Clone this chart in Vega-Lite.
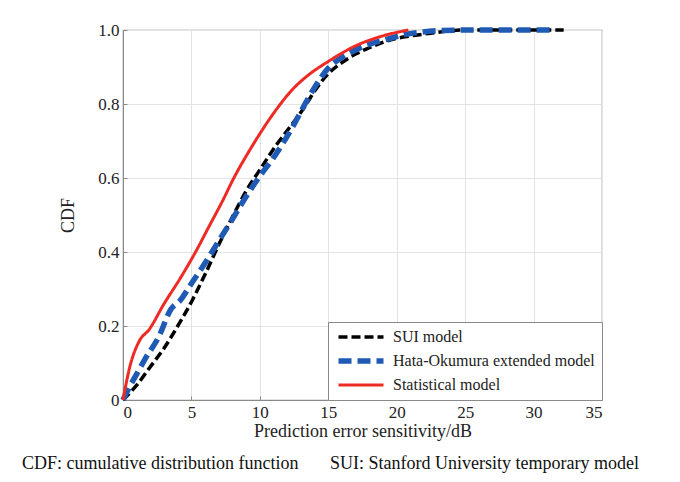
{
  "$schema": "https://vega.github.io/schema/vega-lite/v6.json",
  "width": 479,
  "height": 370,
  "autosize": {"type": "none"},
  "padding": {"left": 123, "top": 30, "right": 78, "bottom": 82},
  "background": "white",
  "config": {
    "font": "Liberation Serif",
    "view": {"stroke": "#8a8a8a", "strokeWidth": 1.2},
    "axis": {
      "labelFont": "Liberation Serif",
      "titleFont": "Liberation Serif",
      "labelFontSize": 17,
      "titleFontSize": 18,
      "labelColor": "#222",
      "titleColor": "#222",
      "titleFontWeight": "normal",
      "gridColor": "#e3e3e3",
      "domainColor": "#8a8a8a",
      "tickColor": "#8a8a8a",
      "tickSize": -4
    }
  },
  "title": {
    "text": "CDF: cumulative distribution function\u00a0\u00a0\u00a0\u00a0\u00a0\u00a0\u00a0SUI: Stanford University temporary model",
    "orient": "bottom",
    "anchor": "start",
    "frame": "group",
    "dx": -101,
    "offset": 15,
    "font": "Liberation Serif",
    "fontSize": 18,
    "fontWeight": "normal",
    "color": "#111"
  },
  "data": {
    "values": [
      {"model": "SUI model", "x": 0, "cdf": 0},
      {"model": "SUI model", "x": 1, "cdf": 0.04},
      {"model": "SUI model", "x": 2, "cdf": 0.09},
      {"model": "SUI model", "x": 3, "cdf": 0.14},
      {"model": "SUI model", "x": 4, "cdf": 0.2},
      {"model": "SUI model", "x": 5, "cdf": 0.265},
      {"model": "SUI model", "x": 6, "cdf": 0.34},
      {"model": "SUI model", "x": 7, "cdf": 0.42},
      {"model": "SUI model", "x": 8, "cdf": 0.495},
      {"model": "SUI model", "x": 9, "cdf": 0.565},
      {"model": "SUI model", "x": 10, "cdf": 0.622},
      {"model": "SUI model", "x": 11.2, "cdf": 0.689},
      {"model": "SUI model", "x": 12, "cdf": 0.728},
      {"model": "SUI model", "x": 13, "cdf": 0.778},
      {"model": "SUI model", "x": 13.4, "cdf": 0.8},
      {"model": "SUI model", "x": 14, "cdf": 0.835},
      {"model": "SUI model", "x": 15, "cdf": 0.882},
      {"model": "SUI model", "x": 16, "cdf": 0.912},
      {"model": "SUI model", "x": 17, "cdf": 0.935},
      {"model": "SUI model", "x": 18, "cdf": 0.952},
      {"model": "SUI model", "x": 19.5, "cdf": 0.973},
      {"model": "SUI model", "x": 21, "cdf": 0.984},
      {"model": "SUI model", "x": 22, "cdf": 0.989},
      {"model": "SUI model", "x": 23, "cdf": 0.994},
      {"model": "SUI model", "x": 24, "cdf": 0.998},
      {"model": "SUI model", "x": 25, "cdf": 1.0},
      {"model": "SUI model", "x": 32.2, "cdf": 1.0},
      {"model": "Hata-Okumura extended model", "x": 0, "cdf": 0},
      {"model": "Hata-Okumura extended model", "x": 0.4, "cdf": 0.03},
      {"model": "Hata-Okumura extended model", "x": 1, "cdf": 0.07},
      {"model": "Hata-Okumura extended model", "x": 1.6, "cdf": 0.11},
      {"model": "Hata-Okumura extended model", "x": 2.6, "cdf": 0.17},
      {"model": "Hata-Okumura extended model", "x": 3.5, "cdf": 0.245},
      {"model": "Hata-Okumura extended model", "x": 4.2, "cdf": 0.27},
      {"model": "Hata-Okumura extended model", "x": 5, "cdf": 0.315},
      {"model": "Hata-Okumura extended model", "x": 6, "cdf": 0.37},
      {"model": "Hata-Okumura extended model", "x": 7, "cdf": 0.43},
      {"model": "Hata-Okumura extended model", "x": 7.8, "cdf": 0.477},
      {"model": "Hata-Okumura extended model", "x": 9, "cdf": 0.55},
      {"model": "Hata-Okumura extended model", "x": 9.9, "cdf": 0.6},
      {"model": "Hata-Okumura extended model", "x": 11, "cdf": 0.655},
      {"model": "Hata-Okumura extended model", "x": 11.6, "cdf": 0.689},
      {"model": "Hata-Okumura extended model", "x": 12.5, "cdf": 0.745},
      {"model": "Hata-Okumura extended model", "x": 13.3, "cdf": 0.8},
      {"model": "Hata-Okumura extended model", "x": 14, "cdf": 0.845},
      {"model": "Hata-Okumura extended model", "x": 15, "cdf": 0.897},
      {"model": "Hata-Okumura extended model", "x": 16, "cdf": 0.926},
      {"model": "Hata-Okumura extended model", "x": 17, "cdf": 0.946},
      {"model": "Hata-Okumura extended model", "x": 18, "cdf": 0.961},
      {"model": "Hata-Okumura extended model", "x": 19.5, "cdf": 0.977},
      {"model": "Hata-Okumura extended model", "x": 20.5, "cdf": 0.987},
      {"model": "Hata-Okumura extended model", "x": 21.7, "cdf": 0.994},
      {"model": "Hata-Okumura extended model", "x": 23, "cdf": 0.998},
      {"model": "Hata-Okumura extended model", "x": 25.4, "cdf": 1.0},
      {"model": "Hata-Okumura extended model", "x": 31.3, "cdf": 1.0},
      {"model": "Statistical model", "x": 0, "cdf": 0},
      {"model": "Statistical model", "x": 0.5, "cdf": 0.09},
      {"model": "Statistical model", "x": 1.2, "cdf": 0.16},
      {"model": "Statistical model", "x": 1.9, "cdf": 0.19},
      {"model": "Statistical model", "x": 3, "cdf": 0.26},
      {"model": "Statistical model", "x": 4.2, "cdf": 0.33},
      {"model": "Statistical model", "x": 5.3, "cdf": 0.4},
      {"model": "Statistical model", "x": 6.3, "cdf": 0.47},
      {"model": "Statistical model", "x": 7.3, "cdf": 0.54},
      {"model": "Statistical model", "x": 8.1, "cdf": 0.6},
      {"model": "Statistical model", "x": 9.5, "cdf": 0.69},
      {"model": "Statistical model", "x": 10.5, "cdf": 0.748},
      {"model": "Statistical model", "x": 11.4, "cdf": 0.795},
      {"model": "Statistical model", "x": 12.4, "cdf": 0.84},
      {"model": "Statistical model", "x": 13.4, "cdf": 0.874},
      {"model": "Statistical model", "x": 15, "cdf": 0.915},
      {"model": "Statistical model", "x": 17.1, "cdf": 0.959},
      {"model": "Statistical model", "x": 18.8, "cdf": 0.982},
      {"model": "Statistical model", "x": 20.85, "cdf": 1.0}
    ]
  },
  "layer": [
    {
      "mark": {"type": "line", "interpolate": "monotone", "strokeCap": "butt"},
      "encoding": {
        "x": {
          "field": "x", "type": "quantitative",
          "scale": {"domain": [0, 35], "nice": false, "zero": false},
          "axis": {"title": "Prediction error sensitivity/dB", "values": [0, 5, 10, 15, 20, 25, 30, 35], "titlePadding": 2, "labelPadding": 8}
        },
        "y": {
          "field": "cdf", "type": "quantitative",
          "scale": {"domain": [0, 1], "nice": false},
          "axis": {"title": "CDF", "values": [0, 0.2, 0.4, 0.6, 0.8, 1.0], "labelExpr": "datum.value == 0 ? '0' : format(datum.value, '.1f')", "titlePadding": 20, "labelPadding": 8}
        },
        "color": {
          "field": "model", "type": "nominal",
          "scale": {"domain": ["SUI model", "Hata-Okumura extended model", "Statistical model"], "range": ["#000000", "#1f5bb5", "#ee2a24"]},
          "legend": {"title": null}
        },
        "strokeDash": {
          "field": "model", "type": "nominal",
          "scale": {"domain": ["SUI model", "Hata-Okumura extended model", "Statistical model"], "range": [[9, 4], [13, 6], [1, 0]]},
          "legend": {"title": null}
        },
        "strokeWidth": {
          "field": "model", "type": "nominal",
          "scale": {"type": "ordinal", "domain": ["SUI model", "Hata-Okumura extended model", "Statistical model"], "range": [3.5, 5.5, 3]},
          "legend": {
            "title": null,
            "orient": "bottom-right",
            "offset": 0,
            "fillColor": "white",
            "strokeColor": "#8a8a8a",
            "padding": 7,
            "symbolType": "M-1,0H9",
            "symbolSize": 81,
            "labelFont": "Liberation Serif",
            "labelFontSize": 16,
            "labelColor": "#222",
            "labelOffset": 42,
            "labelLimit": 400,
            "rowPadding": 5
          }
        },
        "order": {"field": "x", "type": "quantitative"}
      }
    }
  ]
}
